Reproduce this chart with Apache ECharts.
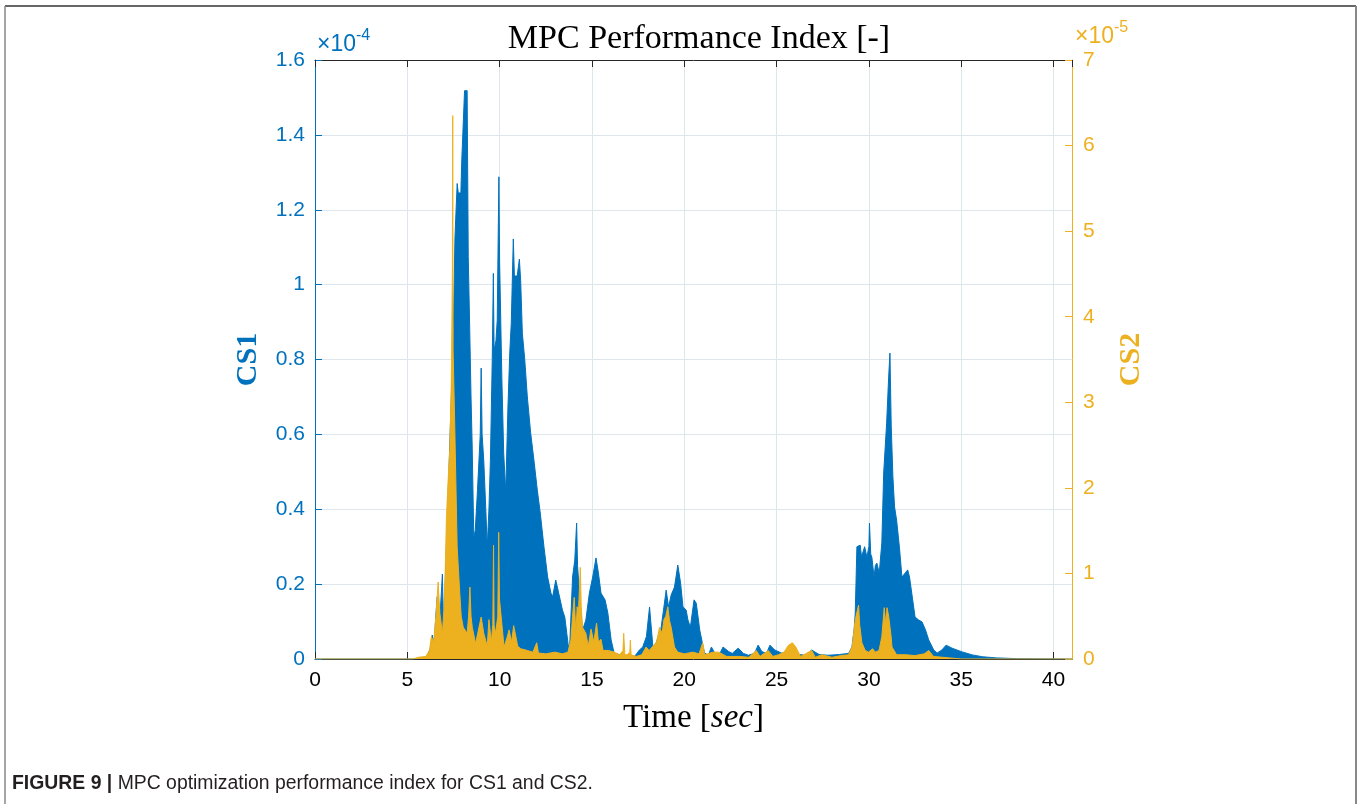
<!DOCTYPE html>
<html>
<head>
<meta charset="utf-8">
<script src="https://cdn.jsdelivr.net/npm/echarts@6/dist/echarts.min.js"></script>
<style>
  html, body { margin: 0; padding: 0; background: #ffffff; }
  #chart { width: 1363px; height: 804px; }
</style>
</head>
<body>
<div id="chart"></div>
<script>
// ---- Data (CS1 in units of 1e-4, CS2 in units of 1e-5) ----
const cs1Time = [0, 5.5, 5.9, 6.1, 6.25, 6.35, 6.45, 6.55, 6.62, 6.7, 6.8, 6.9, 6.95, 7.05, 7.15, 7.25, 7.35, 7.45, 7.5, 7.58, 7.68, 7.7, 7.76, 7.9, 7.95, 8.05, 8.1, 8.24, 8.3, 8.38, 8.45, 8.51, 8.6, 8.68, 8.8, 8.95, 9.0, 9.05, 9.14, 9.25, 9.33, 9.42, 9.5, 9.6, 9.66, 9.7, 9.8, 9.87, 9.96, 10.0, 10.05, 10.12, 10.22, 10.33, 10.45, 10.55, 10.63, 10.74, 10.8, 10.95, 11.07, 11.14, 11.23, 11.36, 11.5, 11.68, 11.86, 12.04, 12.2, 12.4, 12.6, 12.78, 12.87, 13.04, 13.13, 13.28, 13.4, 13.53, 13.7, 13.78, 13.85, 13.95, 14.07, 14.17, 14.22, 14.3, 14.49, 14.67, 14.86, 15.04, 15.22, 15.35, 15.49, 15.71, 15.86, 16.04, 16.2, 16.6, 17.3, 17.57, 17.75, 17.95, 18.12, 18.3, 18.48, 18.75, 19.02, 19.15, 19.29, 19.47, 19.65, 19.8, 19.93, 20.1, 20.2, 20.33, 20.53, 20.65, 20.84, 20.98, 21.1, 21.3, 21.47, 21.65, 21.9, 22.1, 22.4, 22.6, 22.92, 23.2, 23.47, 23.8, 24.0, 24.2, 24.45, 24.64, 24.9, 25.26, 25.6, 26.2, 26.6, 26.9, 27.3, 27.8, 28.4, 28.9, 29.08, 29.2, 29.26, 29.35, 29.53, 29.6, 29.66, 29.77, 29.89, 30.0, 30.03, 30.1, 30.16, 30.28, 30.35, 30.43, 30.56, 30.7, 30.8, 30.96, 31.07, 31.14, 31.21, 31.3, 31.39, 31.5, 31.65, 31.79, 31.97, 32.1, 32.2, 32.37, 32.5, 32.7, 32.88, 33.07, 33.24, 33.51, 33.7, 33.95, 34.18, 34.5, 35.05, 35.6, 36.15, 36.9, 38, 41];
const cs1Value = [0, 0, 0.003, 0.01, 0.03, 0.064, 0.04, 0.12, 0.166, 0.08, 0.14, 0.227, 0.1, 0.2, 0.35, 0.5, 0.65, 0.8, 0.9, 1.125, 1.125, 1.27, 1.245, 1.245, 1.333, 1.333, 1.518, 1.518, 1.075, 0.88, 0.7, 0.577, 0.326, 0.344, 0.45, 0.6, 0.777, 0.6, 0.53, 0.4, 0.30, 0.4, 0.53, 0.8, 1.03, 0.825, 0.85, 0.905, 1.288, 1.06, 1.058, 0.75, 0.55, 0.446, 0.673, 0.82, 0.897, 1.122, 1.023, 1.023, 1.068, 1.01, 0.87, 0.8, 0.70, 0.604, 0.53, 0.451, 0.39, 0.30, 0.219, 0.176, 0.166, 0.211, 0.216, 0.158, 0.131, 0.112, 0.043, 0.016, 0.1, 0.219, 0.264, 0.363, 0.25, 0.192, 0.077, 0.104, 0.176, 0.219, 0.27, 0.23, 0.176, 0.158, 0.123, 0.051, 0.016, 0.01, 0.006, 0.024, 0.032, 0.06, 0.139, 0.032, 0.043, 0.085, 0.184, 0.139, 0.171, 0.192, 0.251, 0.203, 0.139, 0.131, 0.104, 0.085, 0.158, 0.149, 0.077, 0.043, 0.016, 0.01, 0.032, 0.016, 0.012, 0.032, 0.02, 0.015, 0.029, 0.015, 0.01, 0.015, 0.037, 0.02, 0.015, 0.037, 0.024, 0.016, 0.018, 0.012, 0.01, 0.024, 0.012, 0.01, 0.012, 0.015, 0.032, 0.08, 0.123, 0.30, 0.304, 0.273, 0.278, 0.30, 0.272, 0.3, 0.363, 0.28, 0.272, 0.219, 0.25, 0.256, 0.23, 0.31, 0.497, 0.63, 0.753, 0.817, 0.62, 0.486, 0.406, 0.371, 0.30, 0.219, 0.23, 0.238, 0.219, 0.158, 0.112, 0.104, 0.099, 0.077, 0.051, 0.024, 0.016, 0.024, 0.037, 0.029, 0.019, 0.011, 0.006, 0.003, 0.001, 0];

const cs2Time = [0, 5.3, 5.6, 6.0, 6.2, 6.3, 6.43, 6.55, 6.67, 6.76, 6.9, 6.98, 7.05, 7.12, 7.21, 7.3, 7.38, 7.44, 7.46, 7.48, 7.57, 7.7, 7.84, 7.92, 8.03, 8.24, 8.32, 8.39, 8.45, 8.52, 8.7, 8.88, 9.0, 9.14, 9.33, 9.42, 9.55, 9.63, 9.67, 9.7, 9.78, 9.9, 9.95, 9.99, 10.05, 10.24, 10.4, 10.51, 10.65, 10.76, 10.98, 11.14, 11.5, 11.8, 12.01, 12.1, 12.5, 13.0, 13.4, 13.7, 13.86, 13.95, 14.04, 14.13, 14.2, 14.26, 14.37, 14.42, 14.49, 14.67, 14.8, 14.95, 15.1, 15.25, 15.35, 15.49, 15.6, 15.9, 16.2, 16.5, 16.68, 16.72, 16.78, 16.9, 17.05, 17.08, 17.12, 17.4, 17.7, 17.93, 18.1, 18.3, 18.5, 18.66, 18.8, 18.9, 19.0, 19.11, 19.2, 19.29, 19.47, 19.65, 20.0, 20.47, 20.8, 21.0, 21.1, 21.55, 21.87, 22.3, 23.0, 23.5, 23.9, 24.1, 24.55, 24.8, 25.1, 25.4, 25.64, 25.86, 26.04, 26.3, 26.9, 27.1, 27.45, 28.0, 28.5, 28.9, 29.1, 29.26, 29.44, 29.5, 29.62, 29.8, 29.98, 30.2, 30.35, 30.55, 30.7, 30.83, 30.92, 30.98, 31.07, 31.14, 31.2, 31.25, 31.5, 32.0, 32.5, 33.0, 33.24, 33.5, 34.0, 34.5, 35, 41];
const cs2Value = [0, 0, 0.02, 0.03, 0.1, 0.26, 0.2, 0.5, 0.9, 0.54, 0.30, 0.57, 1.0, 1.66, 2.09, 2.44, 3.2, 4.5, 6.35, 3.6, 2.71, 1.31, 0.77, 0.5, 0.37, 0.3, 0.5, 0.84, 0.5, 0.37, 0.18, 0.37, 0.49, 0.3, 0.15, 0.46, 0.2, 0.4, 1.33, 0.4, 0.3, 0.5, 1.48, 0.7, 0.69, 0.14, 0.25, 0.34, 0.2, 0.39, 0.15, 0.12, 0.1, 0.08, 0.19, 0.07, 0.06, 0.08, 0.06, 0.08, 0.22, 0.5, 0.72, 0.3, 0.61, 0.5, 1.07, 0.6, 0.37, 0.3, 0.15, 0.35, 0.2, 0.42, 0.2, 0.23, 0.1, 0.1, 0.08, 0.05, 0.1, 0.30, 0.05, 0.05, 0.08, 0.22, 0.05, 0.03, 0.05, 0.14, 0.1, 0.15, 0.2, 0.37, 0.3, 0.46, 0.5, 0.61, 0.45, 0.37, 0.14, 0.08, 0.06, 0.08, 0.06, 0.19, 0.05, 0.08, 0.08, 0.03, 0.03, 0.02, 0.1, 0.03, 0.1, 0.03, 0.05, 0.08, 0.16, 0.19, 0.14, 0.03, 0.1, 0.02, 0.05, 0.02, 0.04, 0.05, 0.15, 0.46, 0.63, 0.4, 0.19, 0.1, 0.08, 0.12, 0.08, 0.1, 0.26, 0.6, 0.4, 0.6, 0.5, 0.49, 0.27, 0.14, 0.05, 0.05, 0.04, 0.06, 0.1, 0.03, 0.02, 0.01, 0, 0];

const titleText = 'MPC Performance Index [-]';
const xAxisName = 'Time [{i|sec}]';
const leftAxisName = 'CS1';
const rightAxisName = 'CS2';
const captionBold = 'FIGURE 9 |';
const captionText = ' MPC optimization performance index for CS1 and CS2.';

const BLUE = '#0072BD';
const YELLOW = '#EDB120';
const GRIDC = '#dde6ec';
const SERIF = '"Liberation Serif", "DejaVu Serif", serif';
const SANS = '"Liberation Sans", Arial, Helvetica, sans-serif';

const cs1Data = cs1Time.map((t, i) => [t, cs1Value[i]]);
const cs2Data = cs2Time.map((t, i) => [t, cs2Value[i]]);

const chart = echarts.init(document.getElementById('chart'), null, { renderer: 'canvas' });

const option = {
  animation: false,
  backgroundColor: '#ffffff',
  title: {
    text: titleText,
    left: 694,
    top: 17,
    textAlign: 'center',
    textStyle: { fontFamily: SERIF, fontSize: 34, fontWeight: 'normal', color: '#000' }
  },
  grid: { left: 315, right: 291, top: 60, bottom: 145, containLabel: false },
  xAxis: [
    {
      type: 'value', min: 0, max: 41, interval: 5, position: 'bottom',
      name: xAxisName, nameLocation: 'middle', nameGap: 43,
      nameTextStyle: {
        fontFamily: SERIF, fontSize: 33, color: '#000',
        rich: { i: { fontFamily: SERIF, fontSize: 33, fontStyle: 'italic', color: '#000' } }
      },
      axisLine: { show: true, onZero: false, lineStyle: { color: '#262626', width: 1 } },
      axisTick: { show: true, inside: true, length: 7, lineStyle: { color: '#262626' } },
      axisLabel: { show: true, showMaxLabel: false, color: '#000', fontFamily: SANS, fontSize: 21, margin: 11 },
      splitLine: { show: true, lineStyle: { color: GRIDC, width: 1 } }
    },
    {
      type: 'value', min: 0, max: 41, interval: 5, position: 'top',
      axisLine: { show: true, onZero: false, lineStyle: { color: '#262626', width: 1 } },
      axisTick: { show: true, inside: true, length: 7, lineStyle: { color: '#262626' } },
      axisLabel: { show: false },
      splitLine: { show: false }
    }
  ],
  yAxis: [
    {
      type: 'value', min: 0, max: 1.6, interval: 0.2, position: 'left',
      name: leftAxisName, nameLocation: 'middle', nameGap: 52, nameRotate: 90,
      nameTextStyle: { fontFamily: SERIF, fontSize: 30, fontWeight: 'bold', color: BLUE },
      axisLine: { show: true, onZero: false, lineStyle: { color: BLUE, width: 1 } },
      axisTick: { show: true, inside: true, length: 7, lineStyle: { color: BLUE } },
      axisLabel: { color: BLUE, fontFamily: SANS, fontSize: 21, margin: 10 },
      splitLine: { show: true, lineStyle: { color: GRIDC, width: 1 } }
    },
    {
      type: 'value', min: 0, max: 7, interval: 1, position: 'right',
      name: rightAxisName, nameLocation: 'middle', nameGap: 44, nameRotate: 90,
      nameTextStyle: { fontFamily: SERIF, fontSize: 30, fontWeight: 'bold', color: YELLOW },
      axisLine: { show: true, onZero: false, lineStyle: { color: YELLOW, width: 1 } },
      axisTick: { show: true, inside: true, length: 7, lineStyle: { color: YELLOW } },
      axisLabel: { color: YELLOW, fontFamily: SANS, fontSize: 21, margin: 11 },
      splitLine: { show: false }
    }
  ],
  series: [
    {
      name: leftAxisName, type: 'line', xAxisIndex: 0, yAxisIndex: 0,
      data: cs1Data, showSymbol: false, symbol: 'none',
      lineStyle: { color: BLUE, width: 1 },
      areaStyle: { color: BLUE, opacity: 1 },
      z: 2
    },
    {
      name: rightAxisName, type: 'line', xAxisIndex: 0, yAxisIndex: 1,
      data: cs2Data, showSymbol: false, symbol: 'none',
      lineStyle: { color: YELLOW, width: 1 },
      areaStyle: { color: YELLOW, opacity: 1 },
      z: 3
    }
  ],
  graphic: [
    { type: 'line', shape: { x1: 5, y1: 6, x2: 1356, y2: 6 }, style: { stroke: '#333', lineWidth: 1.5 }, silent: true },
    { type: 'line', shape: { x1: 5, y1: 6, x2: 5, y2: 804 }, style: { stroke: '#888', lineWidth: 1.5 }, silent: true },
    { type: 'line', shape: { x1: 1356, y1: 6, x2: 1356, y2: 804 }, style: { stroke: '#888', lineWidth: 2 }, silent: true },
    {
      type: 'text', left: 317, top: 28,
      style: {
        text: '{m|×10}{s|-4}', fill: BLUE,
        rich: {
          m: { fontFamily: SANS, fontSize: 23, fill: BLUE, verticalAlign: 'bottom' },
          s: { fontFamily: SANS, fontSize: 16, fill: BLUE, verticalAlign: 'top', padding: [0, 0, 12, 0] }
        }
      }
    },
    {
      type: 'text', left: 1075, top: 20,
      style: {
        text: '{m|×10}{s|-5}', fill: YELLOW,
        rich: {
          m: { fontFamily: SANS, fontSize: 23, fill: YELLOW, verticalAlign: 'bottom' },
          s: { fontFamily: SANS, fontSize: 16, fill: YELLOW, verticalAlign: 'top', padding: [0, 0, 12, 0] }
        }
      }
    },
    {
      type: 'text', left: 12, top: 774,
      style: {
        text: '{b|' + captionBold + '}{r|' + captionText + '}',
        rich: {
          b: { fontFamily: SANS, fontSize: 19.4, fontWeight: 'bold', fill: '#231f20' },
          r: { fontFamily: SANS, fontSize: 19.4, fill: '#231f20' }
        }
      }
    }
  ]
};

chart.setOption(option);
</script>
</body>
</html>
